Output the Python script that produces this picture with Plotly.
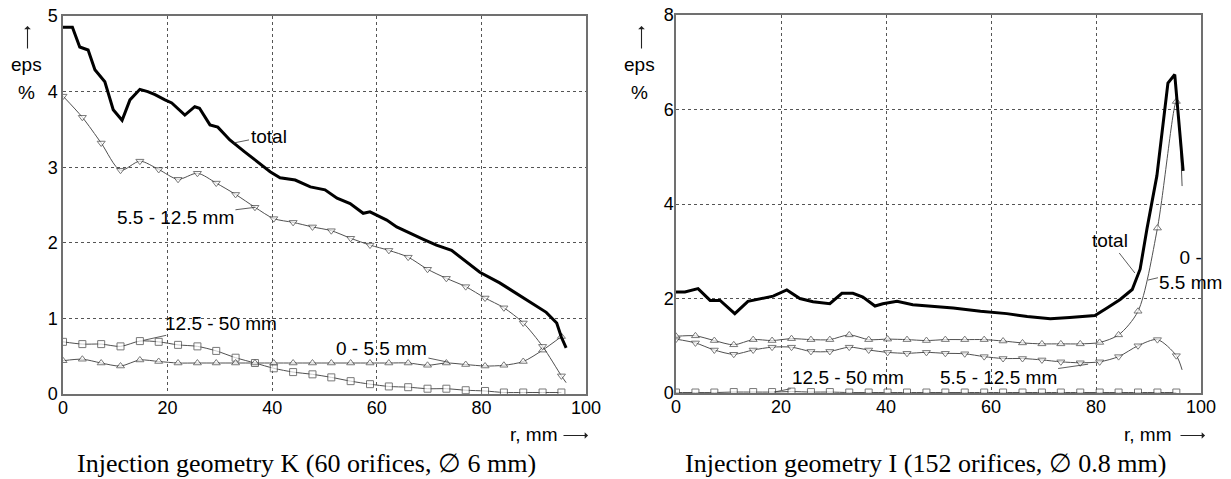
import plotly.graph_objects as go

# ---------------- data: left chart (geometry K) ----------------
r_pts = [0, 3.7, 7.3, 11, 14.7, 18.3, 22, 25.7, 29.3, 33, 36.7, 40.3, 44, 47.7,
         51.3, 55, 58.7, 62.3, 66, 69.7, 73.3, 77, 80.7, 84.3, 88, 91.7, 95.3]

k_total_r = [0, 1.8, 3.2, 4.8, 6.1, 8, 9.6, 11.3, 12.8, 14.7, 16.2, 17.6, 19.5, 20.8,
             23.3, 25.2, 26.1, 28.1, 29.6, 31.9, 34.8, 36.7, 39.6, 41.5, 44.4, 47.3,
             50.1, 52.4, 54.9, 57.4, 58.7, 61.9, 63.8, 68.8, 71.4, 74.3, 75.4, 77.9,
             79.7, 83.5, 88.6, 92.4, 94.4, 95.3, 96.2]
k_total = [4.85, 4.85, 4.59, 4.55, 4.29, 4.13, 3.76, 3.62, 3.89, 4.03, 4.0, 3.96, 3.89, 3.85,
           3.69, 3.8, 3.78, 3.56, 3.53, 3.36, 3.2, 3.1, 2.94, 2.86, 2.83, 2.74,
           2.70, 2.59, 2.52, 2.39, 2.41, 2.30, 2.21, 2.05, 1.97, 1.9, 1.84, 1.71,
           1.61, 1.47, 1.24, 1.08, 0.94, 0.75, 0.61]

k_mid_r = r_pts + [96.2]
k_mid = [3.94, 3.66, 3.32, 2.96, 3.08, 2.97, 2.84, 2.92, 2.79, 2.64, 2.47, 2.32, 2.27, 2.21,
         2.16, 2.06, 1.97, 1.9, 1.81, 1.65, 1.53, 1.42, 1.27, 1.14, 0.94, 0.63, 0.24, 0.15]

k_coarse = [0.69, 0.66, 0.66, 0.63, 0.70, 0.69, 0.65, 0.63, 0.57, 0.48, 0.41, 0.34, 0.29, 0.26,
            0.22, 0.17, 0.13, 0.10, 0.09, 0.07, 0.07, 0.05, 0.04, 0.02, 0.02, 0.02, 0.02]

k_fine = [0.44, 0.46, 0.41, 0.37, 0.45, 0.43, 0.41, 0.41, 0.41, 0.41, 0.41, 0.41, 0.41, 0.41,
          0.41, 0.41, 0.41, 0.41, 0.41, 0.38, 0.41, 0.39, 0.37, 0.38, 0.43, 0.58, 0.76]

# ---------------- data: right chart (geometry I) ----------------
i_total_r = [0, 1.7, 4.2, 6.5, 8.4, 11.2, 13.7, 16, 18.5, 21.1, 23.6, 26.1, 29.3, 31.6,
             33.7, 35.6, 37.9, 39.4, 42.1, 45.1, 48.4, 52.8, 58, 63, 66.9, 71.3, 75,
             79.8, 82.1, 84.6, 86.9, 88.4, 89.7, 91.6, 93.7, 95, 96.6]
i_total = [2.14, 2.14, 2.21, 1.96, 1.96, 1.68, 1.94, 2.0, 2.05, 2.18, 2.0, 1.93, 1.89, 2.11,
           2.11, 2.03, 1.84, 1.89, 1.94, 1.87, 1.84, 1.8, 1.73, 1.68, 1.62, 1.57, 1.6,
           1.64, 1.8, 1.98, 2.19, 2.62, 3.47, 4.6, 6.56, 6.74, 4.7]

i_fine_r = r_pts + [96.4]
i_fine = [1.2, 1.21, 1.11, 1.02, 1.13, 1.11, 1.15, 1.13, 1.13, 1.23, 1.13, 1.14, 1.13, 1.11,
          1.13, 1.13, 1.13, 1.1, 1.06, 1.04, 1.04, 1.04, 1.07, 1.23, 1.73, 3.49, 6.17, 4.38]

i_mid_r = r_pts + [96.4]
i_mid = [1.14, 1.06, 0.91, 0.82, 0.91, 0.97, 0.97, 0.88, 0.88, 0.97, 0.91, 0.86, 0.84, 0.86,
         0.84, 0.83, 0.77, 0.73, 0.73, 0.70, 0.66, 0.64, 0.66, 0.77, 1.0, 1.13, 0.79, 0.49]

i_coarse = [0.01, 0.01, 0.01, 0.02, 0.02, 0.02, 0.03, 0.02, 0.02, 0.01, 0.01, 0.01, 0.01, 0.01,
            0.01, 0.01, 0.01, 0.01, 0.01, 0.01, 0.01, 0.01, 0.01, 0.01, 0.01, 0.01, 0.01]

x_ticks = [0, 20, 40, 60, 80, 100]
k_yticks = [0, 1, 2, 3, 4, 5]
i_yticks = [0, 2, 4, 6, 8]

# ---------------- styles ----------------
SANS = "Liberation Sans, Arial, sans-serif"
SERIF = "Liberation Serif, Times New Roman, serif"
THIN = "#505050"
W, H = 1231, 479


def thin_trace(x, y, symbol, xa, ya, n_markers):
    sizes = [7 if i < n_markers else 0 for i in range(len(x))]
    return go.Scatter(
        x=x, y=y, xaxis=xa, yaxis=ya, mode="lines+markers",
        line=dict(color=THIN, width=1, shape="spline", smoothing=0.8),
        marker=dict(symbol=symbol, size=sizes, color="white",
                    line=dict(color="#404040", width=1)),
        showlegend=False, hoverinfo="skip")


def total_trace(x, y, xa, ya):
    return go.Scatter(x=x, y=y, xaxis=xa, yaxis=ya, mode="lines",
                      line=dict(color="black", width=3),
                      showlegend=False, hoverinfo="skip")


n = len(r_pts)
traces = [
    thin_trace(r_pts, k_coarse, "square", "x", "y", n),
    thin_trace(r_pts, k_fine, "triangle-up", "x", "y", n),
    thin_trace(k_mid_r, k_mid, "triangle-down", "x", "y", n),
    total_trace(k_total_r, k_total, "x", "y"),
    thin_trace(r_pts, i_coarse, "square", "x2", "y2", n),
    thin_trace(i_mid_r, i_mid, "triangle-down", "x2", "y2", n),
    thin_trace(i_fine_r, i_fine, "triangle-up", "x2", "y2", n),
    total_trace(i_total_r, i_total, "x2", "y2"),
]

fig = go.Figure(traces)

COMMON = dict(showgrid=True, gridcolor="#555555", griddash="dot", gridwidth=1,
              zeroline=False, showline=True, mirror=True, linecolor="#707070",
              linewidth=1.5, ticks="", automargin=False, fixedrange=True,
              tickfont=dict(family=SANS, size=18, color="black"))


def xaxis(domain, anchor):
    return dict(domain=domain, anchor=anchor, range=[0, 100], tickvals=x_ticks,
                ticklabelstandoff=-3, **COMMON)


def yaxis(domain, anchor, rng, vals, standoff):
    return dict(domain=domain, anchor=anchor, range=rng, tickvals=vals,
                ticklabelstandoff=standoff, **COMMON)


def px_x(p):
    return p / W


def px_y(p):
    return 1 - p / H


fig.update_layout(
    template="none",
    width=W, height=H, margin=dict(l=0, r=0, t=0, b=0, pad=0, autoexpand=False),
    paper_bgcolor="white", plot_bgcolor="white",
    xaxis=xaxis([px_x(63), px_x(586)], "y"),
    yaxis=yaxis([px_y(394), px_y(16)], "x", [0, 5], k_yticks, 0),
    xaxis2=xaxis([px_x(676), px_x(1201)], "y2"),
    yaxis2=yaxis([px_y(393), px_y(15)], "x2", [0, 8], i_yticks, -3),
)

ann = []
LEAD = dict(showarrow=True, arrowhead=0, arrowwidth=0.8, arrowcolor="#333333",
            font=dict(family=SANS, size=19, color="black"))

# series labels, left
ann += [
    dict(x=32.6, y=3.32, xref="x", yref="y", text="total", ax=35, ay=-7, **LEAD),
    dict(x=36.8, y=2.47, xref="x", yref="y", text="5.5 - 12.5 mm", ax=-80, ay=10, **LEAD),
    dict(x=15.4, y=0.71, xref="x", yref="y", text="12.5 - 50 mm", ax=77, ay=-17, **LEAD),
    dict(x=73.7, y=0.42, xref="x", yref="y", text="0 - 5.5 mm", ax=-67, ay=-14, **LEAD),
]
# series labels, right
ann += [
    dict(x=87.4, y=2.54, xref="x2", yref="y2", text="total", ax=-25, ay=-32, **LEAD),
    dict(x=89.9, y=2.39, xref="x2", yref="y2", text="0 -<br>5.5 mm", ax=43, ay=-10, **LEAD),
    dict(x=78.5, y=0.61, xref="x2", yref="y2", text="5.5 - 12.5 mm", ax=-90, ay=13, **LEAD),
    dict(x=18.7, y=0.02, xref="x2", yref="y2", text="12.5 - 50 mm", ax=74, ay=-15, **LEAD),
]

TXT = dict(xref="paper", yref="paper", xanchor="center", yanchor="middle", showarrow=False)
ARW = dict(xref="paper", yref="paper", text="", showarrow=True, arrowhead=1, arrowsize=1,
           arrowwidth=1.1, arrowcolor="#222222", font=dict(size=1), standoff=0,
           startstandoff=0)

# axis titles
for cx in (26, 640):
    ann.append(dict(x=px_x(cx), y=px_y(64), text="eps",
                    font=dict(family=SANS, size=19, color="black"), **TXT))
    ann.append(dict(x=px_x(cx), y=px_y(92), text="%",
                    font=dict(family=SANS, size=19, color="black"), **TXT))
    ann.append(dict(x=px_x(cx + 1.5), y=px_y(26), ax=0, ay=24, **ARW))

for tx, ax_end in ((534, 588), (1148, 1205)):
    ann.append(dict(x=px_x(tx), y=px_y(434), text="r, mm",
                    font=dict(family=SANS, size=19, color="black"), **TXT))
    ann.append(dict(x=px_x(ax_end), y=px_y(435.5), ax=-26, ay=0, **ARW))

# captions
ann.append(dict(x=px_x(306), y=px_y(463),
                text="Injection geometry K (60 orifices, \u2205 6 mm)",
                font=dict(family=SERIF, size=26, color="black"), **TXT))
ann.append(dict(x=px_x(925), y=px_y(463),
                text="Injection geometry I (152 orifices, \u2205 0.8 mm)",
                font=dict(family=SERIF, size=26, color="black"), **TXT))

fig.update_layout(annotations=ann)
fig.write_html("out.html")
